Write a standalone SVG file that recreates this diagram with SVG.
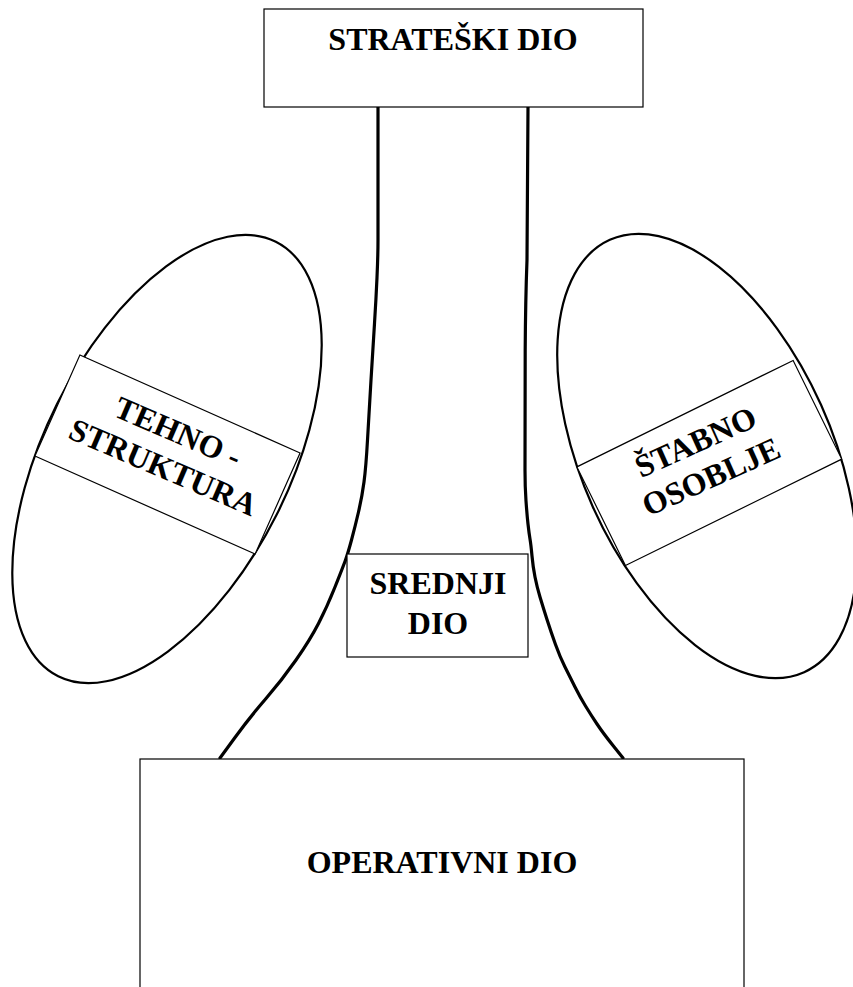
<svg xmlns="http://www.w3.org/2000/svg" width="853" height="987" viewBox="0 0 853 987">
<style>
.box{fill:#fff;stroke:#000;stroke-width:1.2}
.ell{fill:none;stroke:#000;stroke-width:2.2}
.flow{fill:none;stroke:#000;stroke-width:3.2;stroke-linejoin:round;stroke-linecap:round}
.lbl{font-weight:bold;font-size:32px;fill:#000;text-anchor:middle}
</style>
<rect x="0" y="0" width="853" height="987" fill="#fff"/>
<g id="connectors">
<path class="flow" d="M378,107 L378,240 Q378,255 377,277.5 Q376,300 374.5,323.5 Q373,347 371,380 Q369,413 367.5,440 Q366,467 364,482 Q362,497 358.5,512 Q355,527 351.5,540 Q348,553 345.5,560 Q343,567 335,587 Q327,607 318.5,623.5 Q310,640 296,660 Q282,680 266,698.5 Q250,717 235,737.5 L220,758"/>
<path class="flow" d="M528,107 L527,260 Q525.5,300 525.2,350 L525,470 Q525,487 526,501 Q527,515 528,524 Q529,533 530,539 Q531,545 532,556 Q533,567 535,577 Q537,587 540,597 Q543,607 547,619.5 Q551,632 555.5,644.5 Q560,657 565,667 Q570,677 575,687 Q580,697 585.5,706 Q591,715 597,724 Q603,733 613,745.5 L623,758"/>
</g>
<g font-family="'Liberation Serif', 'Times New Roman', Tinos, 'DejaVu Serif', serif">
<g id="strateski">
<rect class="box" x="264" y="9" width="379" height="98"/>
<text class="lbl" x="453" y="50">STRATEŠKI DIO</text>
</g>
<g id="tehnostruktura">
<ellipse class="ell" cx="0" cy="0" rx="123" ry="243" transform="translate(167,459) rotate(26.6)"/>
<g transform="translate(167.5,454.5) rotate(24)">
<rect class="box" x="-120.5" y="-55.3" width="241" height="110.6"/>
<text class="lbl" transform="rotate(-0.8)" x="1" y="-14">TEHNO -</text>
<text class="lbl" transform="rotate(-0.8)" x="1" y="24">STRUKTURA</text>
</g>
</g>
<g id="stabno">
<ellipse class="ell" cx="0" cy="0" rx="125" ry="237" transform="translate(707,456) rotate(-24.2)"/>
<g transform="translate(709.3,463) rotate(-26.2)">
<rect class="box" x="-120.5" y="-55" width="241" height="110"/>
<text class="lbl" transform="rotate(2)" x="-4" y="-14">ŠTABNO</text>
<text class="lbl" transform="rotate(2)" x="-4" y="24">OSOBLJE</text>
</g>
</g>
<g id="srednji">
<rect class="box" x="347" y="554" width="181" height="103"/>
<text class="lbl" x="438" y="594">SREDNJI</text>
<text class="lbl" x="438" y="634">DIO</text>
</g>
<g id="operativni">
<rect class="box" x="140" y="759" width="604" height="260"/>
<text class="lbl" x="442" y="873">OPERATIVNI DIO</text>
</g>
</g>
</svg>
